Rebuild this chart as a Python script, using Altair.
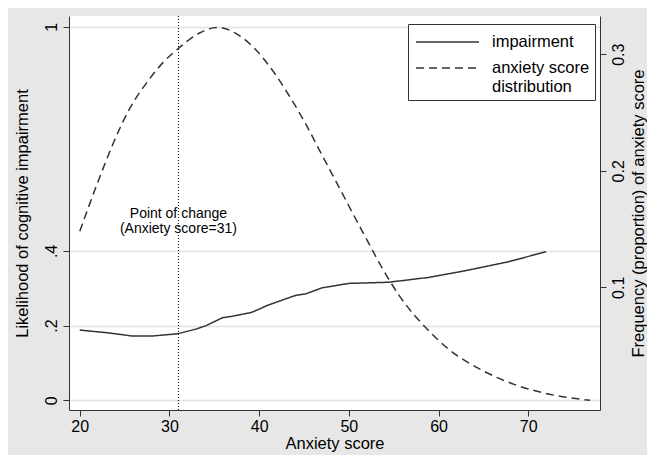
import altair as alt
import pandas as pd

# ---- data ----
imp_x = [20.0, 23.0, 25.9, 28.0, 30.9, 33.0, 34.1, 35.9, 37.0, 39.1, 40.0, 40.9,
         43.0, 44.1, 45.2, 47.0, 50.0, 54.4, 58.9, 63.0, 67.8, 72.0]
imp_y = [0.188, 0.181, 0.172, 0.172, 0.178, 0.191, 0.200, 0.221, 0.225, 0.235, 0.244, 0.254,
         0.272, 0.281, 0.285, 0.301, 0.313, 0.316, 0.329, 0.347, 0.371, 0.398]

dist_x = [20.0, 22.2, 23.7, 25.4, 27.8, 29.3, 31.0, 33.3, 35.3, 37.8, 39.6, 41.5,
          43.3, 45.2, 46.9, 48.9, 51.5, 54.6, 55.6, 57.2, 58.5, 61.1, 64.8, 68.5, 72.2, 76.9]
dist_y = [0.148, 0.194, 0.223, 0.251, 0.279, 0.293, 0.305, 0.318, 0.323, 0.316, 0.304, 0.286,
          0.265, 0.240, 0.215, 0.186, 0.148, 0.105, 0.093, 0.077, 0.066, 0.047, 0.029, 0.0165, 0.0085, 0.003]

x_ticks = [20, 30, 40, 50, 60, 70]
left_ticks = [0, 0.2, 0.4, 1]
right_ticks = [0.1, 0.2, 0.3]

series_names = ["impairment", "anxiety score distribution"]
change_point = 31
change_label = ["Point of change", "(Anxiety score=31)"]

imp = pd.DataFrame({"score": imp_x, "value": imp_y, "series": series_names[0]})
dist = pd.DataFrame({"score": dist_x, "value": dist_y, "series": series_names[1]})
vline = pd.DataFrame({"score": [change_point]})
note = pd.DataFrame({"score": [change_point], "value": [0.5]})

FONT = "Liberation Sans"
INK = "#333333"

xscale = alt.Scale(domain=[18.8, 78.0], nice=False, zero=False)
xaxis = alt.Axis(values=x_ticks, grid=False, title="Anxiety score", tickSize=6,
                 labelPadding=2, titlePadding=1)

dash = alt.StrokeDash(
    "series:N",
    scale=alt.Scale(domain=series_names, range=[[1, 0], [8, 5]]),
    legend=alt.Legend(
        title=None, orient="none", legendX=339, legendY=8,
        fillColor="white", strokeColor=INK, padding=5,
        symbolType="stroke", symbolSize=3969, symbolStrokeWidth=1.5,
        symbolStrokeColor=INK, symbolOffset=2, labelOffset=12,
        clipHeight=26, rowPadding=0,
        labelFont=FONT, labelFontSize=16.5, labelColor="black",
        labelExpr="datum.label == 'anxiety score distribution' ? ['anxiety score\u00a0', 'distribution'] : datum.label",
    ),
)

left_scale = alt.Scale(domain=[-0.026, 1.029], nice=False, zero=False)
left_axis = alt.Axis(
    values=left_ticks, orient="left", grid=True, gridColor="#e2e2e2", gridWidth=1.5,
    labelAngle=270, tickSize=6, labelPadding=4, titlePadding=13, titleAngle=270,
    labelExpr="datum.value == 0 ? '0' : datum.value == 1 ? '1' : replace(format(datum.value, '.1f'), '0.', '.')",
    title="Likelihood of cognitive impairment",
)

right_scale = alt.Scale(domain=[-0.0053, 0.3328], nice=False, zero=False)
right_axis = alt.Axis(
    values=right_ticks, orient="right", grid=False, format=".1f",
    labelAngle=270, tickSize=6, labelPadding=4, titlePadding=4, titleAngle=270,
    titleBaseline="top",
    title="Frequency (proportion) of anxiety score",
)

imp_line = alt.Chart(imp).mark_line(color=INK, strokeWidth=1.5).encode(
    x=alt.X("score:Q", scale=xscale, axis=xaxis),
    y=alt.Y("value:Q", scale=left_scale, axis=left_axis),
    strokeDash=dash,
)

rule = alt.Chart(vline).mark_rule(color="black", strokeWidth=1, strokeDash=[1, 2]).encode(
    x=alt.X("score:Q", scale=xscale),
)

text = alt.Chart(note).mark_text(
    font=FONT, fontSize=14, color="black", align="center", baseline="middle", lineHeight=15,
).encode(
    x=alt.X("score:Q", scale=xscale),
    y=alt.Y("value:Q", scale=left_scale),
    text=alt.value(change_label),
)

left_layer = alt.layer(imp_line, rule, text)

dist_line = alt.Chart(dist).mark_line(color=INK, strokeWidth=1.5, interpolate="monotone").encode(
    x=alt.X("score:Q", scale=xscale),
    y=alt.Y("value:Q", scale=right_scale, axis=right_axis),
    strokeDash=dash,
)

chart = alt.layer(left_layer, dist_line).resolve_scale(
    y="independent"
).properties(
    width=531, height=394,
    padding={"left": 61, "top": 8, "right": 47, "bottom": 45},
    autosize=alt.AutoSizeParams(type="none"),
    background="#e7e7e7",
).configure_view(
    fill="white", stroke=None,
).configure_axis(
    labelFont=FONT, titleFont=FONT, labelFontSize=16, titleFontSize=16.5,
    titleFontWeight="normal", labelColor="black", titleColor="black",
    domainColor=INK, tickColor=INK, domainWidth=1, tickWidth=1,
)

chart.save("out.html", embed_options={"renderer": "svg", "actions": False})
